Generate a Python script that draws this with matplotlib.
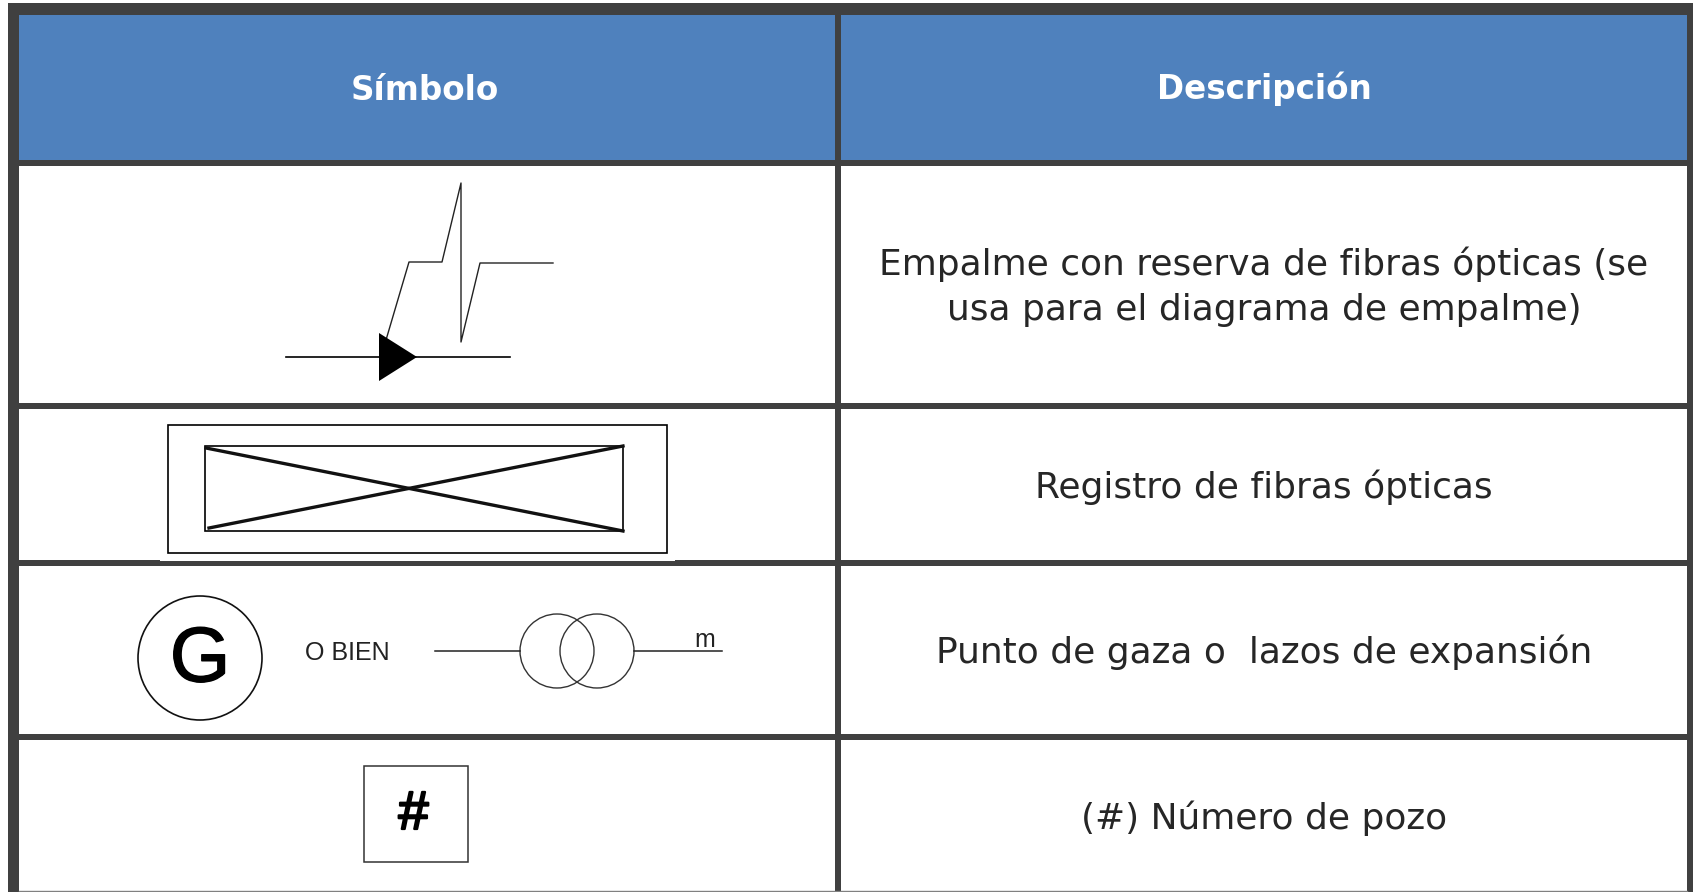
import matplotlib
matplotlib.use("Agg")
import matplotlib.pyplot as plt
import matplotlib.patheffects as pe
from matplotlib.patches import Rectangle, Circle, Polygon

# Table layout, in reference pixels
WIDTH = 1694
HEIGHT = 892
RULE_COLOR = "#404040"
HEADER_COLOR = "#4f81bd"
TEXT_COLOR = "#262626"

headers = ["Símbolo", "Descripción"]
header_x = [425, 1264]
header_y = [90, 89]

descriptions = [
    "Empalme con reserva de fibras ópticas (se\nusa para el diagrama de empalme)",
    "Registro de fibras ópticas",
    "Punto de gaza o  lazos de expansión",
    "(#) Número de pozo",
]
description_y = [286.5, 487, 652, 818]
description_x = 1264

# (y top, y bottom) of each horizontal rule
h_rules = [(3, 15), (160, 166), (403, 409), (560, 566), (734, 740)]
# (x left, x right) of each vertical rule
v_rules = [(8, 19), (835, 841), (1687, 1693)]

# Splice symbol
splice_line_x = [286, 510]
splice_line_y = [357, 357]
splice_tri_x = [379, 379, 417]
splice_tri_y = [333, 381, 357]
zigzag_x = [386, 409, 442, 461, 461, 480, 553]
zigzag_y = [340, 262, 262, 183, 342, 263, 263]

# Fibre register symbol
outer_box = (168, 425, 499, 128)
inner_box = (205, 446, 418, 85)
cross_a_x = [206, 623]
cross_a_y = [448, 531]
cross_b_x = [209, 623]
cross_b_y = [528, 446]

# Loop symbol
g_circle = (200, 658, 62)
loop_centers = [557, 597]
loop_y = 651
loop_r = 37
loop_lead_left = [435, 520]
loop_lead_right = [634, 722]

# Well number symbol
well_box = (364, 766, 104, 96)


def draw_rules(ax):
    """Draw the header band and the grid of the table."""
    ax.add_patch(Rectangle((19, 15), WIDTH - 26, 145, fc=HEADER_COLOR, ec="none"))
    for top, bottom in h_rules:
        ax.add_patch(Rectangle((8, top), WIDTH - 9, bottom - top, fc=RULE_COLOR, ec="none"))
    for left, right in v_rules:
        ax.add_patch(Rectangle((left, 3), right - left, HEIGHT - 3, fc=RULE_COLOR, ec="none"))
    ax.plot([19, 1687], [891, 891], color="#808080", lw=1)


def draw_symbols(ax):
    """Draw the four hand-made symbols in the left column."""
    heavy = [pe.withStroke(linewidth=1.0, foreground="black")]

    ax.plot(splice_line_x, splice_line_y, color="black", lw=1.2)
    ax.add_patch(Polygon(list(zip(splice_tri_x, splice_tri_y)), fc="black", ec="none", zorder=3))
    ax.plot(zigzag_x, zigzag_y, color="#222222", lw=1.0)

    # white strip clips the rule just under the outer box, as in the scan
    ax.add_patch(Rectangle((160, 559), 515, 2, fc="white", ec="none"))
    for x, y, w, h in [outer_box, inner_box]:
        ax.add_patch(Rectangle((x, y), w, h, fc="none", ec="black", lw=1.2))
    ax.plot(cross_a_x, cross_a_y, color="#111111", lw=2.4)
    ax.plot(cross_b_x, cross_b_y, color="#111111", lw=2.4)

    ax.add_patch(Circle(g_circle[:2], g_circle[2], fc="none", ec="#111111", lw=1.2))
    ax.text(g_circle[0], g_circle[1] + 3, "G", fontsize=56, family="Liberation Sans",
            ha="center", va="center", color="black", path_effects=heavy)
    ax.text(305, 653, "O BIEN", fontsize=18, family="Liberation Sans",
            ha="left", va="center", color="#222222")
    for cx in loop_centers:
        ax.add_patch(Circle((cx, loop_y), loop_r, fc="none", ec="#333333", lw=1.0))
    ax.plot(loop_lead_left, [loop_y, loop_y], color="#222222", lw=1.1)
    ax.plot(loop_lead_right, [loop_y, loop_y], color="#222222", lw=1.1)
    ax.text(705, 647, "m", fontsize=18, family="Liberation Sans",
            ha="center", va="baseline", color="#222222")

    ax.add_patch(Rectangle(well_box[:2], well_box[2], well_box[3], fc="none", ec="#333333", lw=1.1))
    ax.text(413.5, 815, "#", fontsize=39, family="Liberation Sans",
            ha="center", va="center", color="black",
            path_effects=[pe.withStroke(linewidth=1.6, foreground="black")])


def main():
    fig = plt.figure(figsize=(WIDTH / 100, HEIGHT / 100), dpi=100, facecolor="white")
    ax = fig.add_axes([0, 0, 1, 1])
    ax.set_xlim(0, WIDTH)
    ax.set_ylim(HEIGHT, 0)
    ax.axis("off")

    draw_rules(ax)
    draw_symbols(ax)

    for label, x, y in zip(headers, header_x, header_y):
        ax.text(x, y, label, fontsize=23.5, fontweight="bold", family="DejaVu Sans",
                ha="center", va="center", color="white")
    for label, y in zip(descriptions, description_y):
        ax.text(description_x, y, label, fontsize=25.9, family="DejaVu Sans", linespacing=1.4,
                ha="center", va="center", color=TEXT_COLOR)

    fig.savefig("out.png", dpi=100)


if __name__ == "__main__":
    main()
